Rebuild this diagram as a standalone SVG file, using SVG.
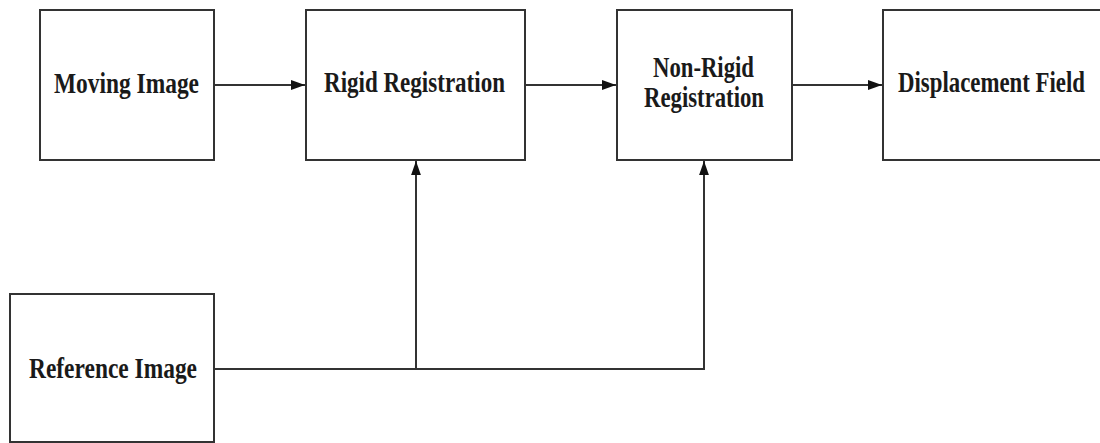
<svg xmlns="http://www.w3.org/2000/svg" width="1100" height="443" viewBox="0 0 1100 443">
<style>
.box{fill:#fff;stroke:#333;stroke-width:2}
.lbl{font-family:"Liberation Serif","Times New Roman",serif;font-weight:bold;font-size:29px;fill:#1a1a1a}
.conn{fill:none;stroke:#333;stroke-width:2}
</style>
<defs>
<marker id="arr" viewBox="0 0 10 10" refX="10" refY="5" markerWidth="6" markerHeight="6" markerUnits="userSpaceOnUse" orient="auto">
<path d="M0,0 L10,5 L0,10 z" fill="#111"/>
</marker>
<marker id="arrh" viewBox="0 0 10 10" refX="10" refY="5" markerWidth="14" markerHeight="14" markerUnits="userSpaceOnUse" orient="auto">
<path d="M0,1.5 L10,5 L0,8.5 z" fill="#111"/>
</marker>
</defs>
<rect width="1100" height="443" fill="#fff"/>
<g id="moving-image">
<rect class="box" x="40" y="10" width="174" height="150"/>
<text class="lbl" x="54" y="93" textLength="145" lengthAdjust="spacingAndGlyphs">Moving Image</text>
</g>
<g id="rigid-registration">
<rect class="box" x="306" y="10" width="219" height="150"/>
<text class="lbl" x="324" y="92" textLength="181" lengthAdjust="spacingAndGlyphs">Rigid Registration</text>
</g>
<g id="non-rigid-registration">
<rect class="box" x="617" y="10" width="175" height="150"/>
<text class="lbl" x="653" y="77" textLength="101" lengthAdjust="spacingAndGlyphs">Non-Rigid</text>
<text class="lbl" x="644" y="107" textLength="120" lengthAdjust="spacingAndGlyphs">Registration</text>
</g>
<g id="displacement-field">
<rect class="box" x="883" y="10" width="230" height="150"/>
<text class="lbl" x="898" y="92" textLength="187" lengthAdjust="spacingAndGlyphs">Displacement Field</text>
</g>
<g id="reference-image">
<rect class="box" x="10" y="294" width="204" height="148"/>
<text class="lbl" x="29" y="378" textLength="168" lengthAdjust="spacingAndGlyphs">Reference Image</text>
</g>
<g id="connectors">
<line class="conn" x1="214" y1="85" x2="305" y2="85" marker-end="url(#arrh)"/>
<line class="conn" x1="525" y1="85" x2="616" y2="85" marker-end="url(#arrh)"/>
<line class="conn" x1="792" y1="85" x2="882" y2="85" marker-end="url(#arrh)"/>
<polyline class="conn" points="214,369 704,369 704,161" marker-end="url(#arrh)"/>
<line class="conn" x1="416" y1="369" x2="416" y2="161" marker-end="url(#arrh)"/>
</g>
</svg>
